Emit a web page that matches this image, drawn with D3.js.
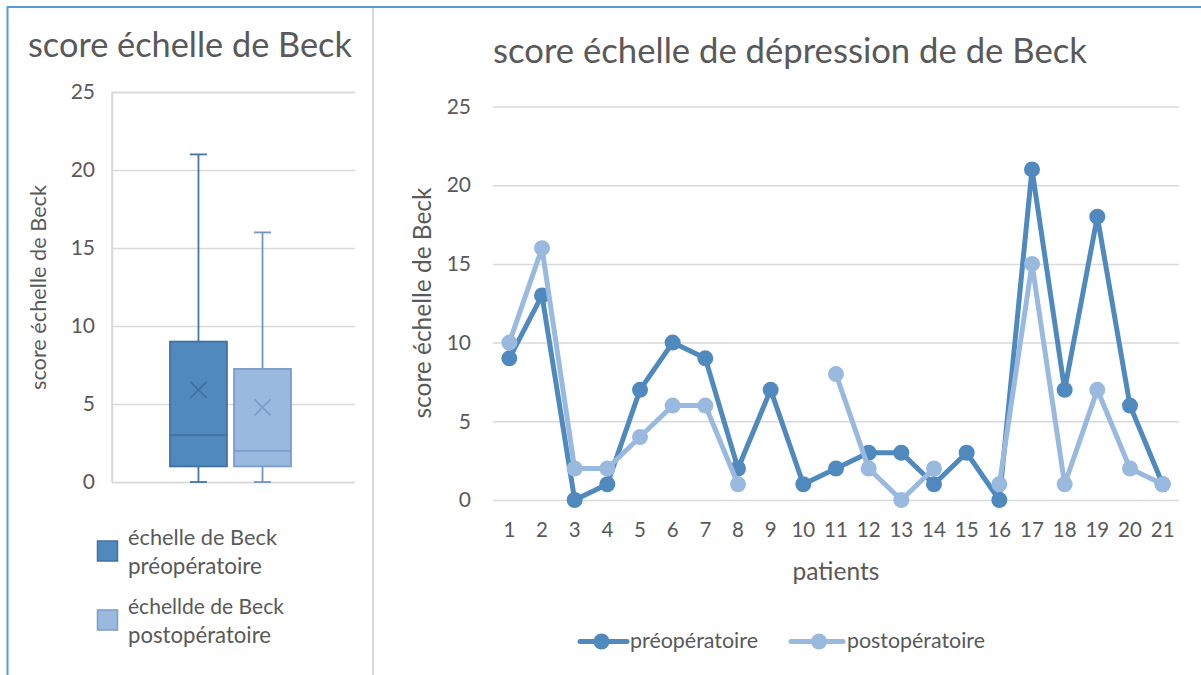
<!DOCTYPE html>
<html><head><meta charset="utf-8">
<script src="https://cdn.jsdelivr.net/npm/d3@7"></script>
<style>
html,body{margin:0;padding:0;background:#fff;}
svg{display:block;font-family:Lato,"Open Sans",sans-serif;}
</style></head>
<body>
<svg id="c" width="1201" height="675"></svg>
<script>
// ---------- data ----------
const patients = d3.range(1, 22).map(String);
const preValues  = [9,13,0,1,7,10,9,2,7,1,2,3,3,1,3,0,21,7,18,6,1];
const postValues = [10,16,2,2,4,6,6,1,null,null,8,2,0,2,null,1,15,1,7,2,1];
const seriesNames = ["préopératoire","postopératoire"];
const boxNames = [["échelle de Beck","préopératoire"],["échellde de Beck","postopératoire"]];
// box statistics: min, q1, median, q3, max, mean
const boxMin    = [0, 0];
const boxQ1     = [1, 1];
const boxMedian = [3, 2];
const boxQ3     = [9, 7.25];
const boxMax    = [21, 16];
const boxMean   = [5.9, 4.78];
const yTicks = [0,5,10,15,20,25];

const colPre = "#4F89BD", colPost = "#99B9DF";
const strokePre = "#41729F", strokePost = "#7C9DC8";
const txt = "#595959", grid = "#D9D9D9";

const svg = d3.select("#c");
function fit(sel, w){
  const node = sel.node(); const fs = parseFloat(sel.attr("font-size"));
  const cur = node.getComputedTextLength();
  sel.attr("font-size", (fs*w/cur).toFixed(2));
}

// frame
svg.append("line").attr("x1",7).attr("x2",1201).attr("y1",7).attr("y2",7).attr("stroke","#5B9BD5").attr("stroke-width",2);
svg.append("line").attr("x1",7.5).attr("x2",7.5).attr("y1",6).attr("y2",675).attr("stroke","#5B9BD5").attr("stroke-width",2);
svg.append("line").attr("x1",373).attr("x2",373).attr("y1",8).attr("y2",675).attr("stroke","#D9D9D9").attr("stroke-width",2);

// ---------- left box plot ----------
const L = {x0:112, x1:355, y0:482, y1:92};
const ly = d3.scaleLinear().domain([0,25]).range([L.y0, L.y1]);
const lx = d3.scaleBand().domain([0,1]).range([169,292]).paddingInner(0.08).paddingOuter(0);

svg.append("text").attr("x",28).attr("y",57).attr("font-size",30).attr("fill",txt)
  .text("score échelle de Beck").call(fit, 324);

const lAxis = svg.append("g").attr("transform",`translate(${L.x0},0)`)
  .call(d3.axisLeft(ly).tickValues(yTicks).tickSize(-(L.x1-L.x0)).tickPadding(17));
lAxis.select(".domain").attr("stroke",grid).attr("stroke-width",1.5);
lAxis.selectAll(".tick line").attr("stroke",grid).attr("stroke-width",1.5);
lAxis.selectAll(".tick text").attr("fill",txt).attr("font-size",21).attr("font-family","Lato");
svg.append("line").attr("x1",L.x0).attr("x2",L.x0).attr("y1",L.y1).attr("y2",L.y0).attr("stroke",grid).attr("stroke-width",1.5);

svg.append("text").attr("transform",`translate(46,${(185+390)/2}) rotate(-90)`).attr("text-anchor","middle")
  .attr("font-size",18).attr("fill",txt).text("score échelle de Beck").call(fit,205);

const fills=[colPre,colPost], strokes=[strokePre,strokePost], whisk=["#4676A6","#7395C2"];
[0,1].forEach(i=>{
  const x = lx(i), w = lx.bandwidth(), cx = x + w/2;
  const g = svg.append("g");
  g.append("line").attr("x1",cx).attr("x2",cx).attr("y1",ly(boxQ3[i])).attr("y2",ly(boxMax[i])).attr("stroke",whisk[i]).attr("stroke-width",1.8);
  g.append("line").attr("x1",cx).attr("x2",cx).attr("y1",ly(boxQ1[i])).attr("y2",ly(boxMin[i])).attr("stroke",whisk[i]).attr("stroke-width",1.8);
  g.append("line").attr("x1",cx-8.5).attr("x2",cx+8.5).attr("y1",ly(boxMax[i])).attr("y2",ly(boxMax[i])).attr("stroke",whisk[i]).attr("stroke-width",1.8);
  g.append("line").attr("x1",cx-8.5).attr("x2",cx+8.5).attr("y1",ly(boxMin[i])).attr("y2",ly(boxMin[i])).attr("stroke",whisk[i]).attr("stroke-width",1.8);
  g.append("rect").attr("x",x+1).attr("y",ly(boxQ3[i])).attr("width",w-2).attr("height",ly(boxQ1[i])-ly(boxQ3[i]))
    .attr("fill",fills[i]).attr("stroke",strokes[i]).attr("stroke-width",1.8);
  g.append("line").attr("x1",x+1).attr("x2",x+w-1).attr("y1",ly(boxMedian[i])).attr("y2",ly(boxMedian[i])).attr("stroke",strokes[i]).attr("stroke-width",1.8);
  const my = ly(boxMean[i]), s=8;
  g.append("path").attr("d",`M${cx-s},${my-s}L${cx+s},${my+s}M${cx-s},${my+s}L${cx+s},${my-s}`).attr("stroke",strokes[i]).attr("stroke-width",1.8).attr("fill","none");
});

// left legend
const leftLegW = [[149,134],[156,143]];
boxNames.forEach((lines,i)=>{
  const y0 = 541 + i*69;
  svg.append("rect").attr("x",97.5).attr("y",y0).attr("width",20).attr("height",20).attr("fill",fills[i]).attr("stroke",strokes[i]).attr("stroke-width",1.5);
  lines.forEach((t,j)=>{
    svg.append("text").attr("x",128).attr("y",y0 + 4 + j*29).attr("font-size",19).attr("fill",txt).text(t).call(fit, leftLegW[i][j]);
  });
});

// ---------- right line chart ----------
const R = {x0:493, x1:1179, y0:500, y1:106.5};
const rx = d3.scaleBand().domain(patients).range([R.x0,R.x1]);
const ry = d3.scaleLinear().domain([0,25]).range([R.y0,R.y1]);

svg.append("text").attr("x",493).attr("y",63).attr("font-size",30).attr("fill",txt)
  .text("score échelle de dépression de de Beck").call(fit, 594);

const rAxis = svg.append("g").attr("transform",`translate(${R.x0},0)`)
  .call(d3.axisLeft(ry).tickValues(yTicks).tickSize(-(R.x1-R.x0)).tickPadding(22));
rAxis.select(".domain").remove();
rAxis.selectAll(".tick line").attr("stroke",grid).attr("stroke-width",1.5);
rAxis.selectAll(".tick text").attr("fill",txt).attr("font-size",21).attr("font-family","Lato");

const xAxis = svg.append("g").attr("transform",`translate(0,${R.y0})`)
  .call(d3.axisBottom(rx).tickSize(0).tickPadding(22));
xAxis.select(".domain").remove();
xAxis.selectAll(".tick text").attr("fill",txt).attr("font-size",20.5).attr("font-family","Lato");

svg.append("text").attr("x",836).attr("y",580).attr("text-anchor","middle").attr("font-size",20).attr("fill",txt).text("patients").call(fit,87);
svg.append("text").attr("transform",`translate(431,303) rotate(-90)`).attr("text-anchor","middle")
  .attr("font-size",20).attr("fill",txt).text("score échelle de Beck").call(fit,231);

const cxr = d => rx(d) + rx.bandwidth()/2;
const line = d3.line().defined(d=>d.v!==null).x(d=>cxr(d.p)).y(d=>ry(d.v));
const series = [
  {name:seriesNames[0], vals:preValues, color:colPre},
  {name:seriesNames[1], vals:postValues, color:colPost}
];
series.forEach(s=>{
  const pts = patients.map((p,i)=>({p, v:s.vals[i]}));
  const g = svg.append("g");
  g.append("path").datum(pts).attr("d",line).attr("fill","none").attr("stroke",s.color)
    .attr("stroke-width",5).attr("stroke-linejoin","round").attr("stroke-linecap","round");
  g.selectAll("circle").data(pts.filter(d=>d.v!==null)).join("circle")
    .attr("cx",d=>cxr(d.p)).attr("cy",d=>ry(d.v)).attr("r",8).attr("fill",s.color);
});

// right legend
const legItems = [{x:580, tx:630, w:128}, {x:791, tx:847, w:138}];
series.forEach((s,i)=>{
  const lx0 = legItems[i].x, w = i===0?47:52;
  svg.append("line").attr("x1",lx0).attr("x2",lx0+w).attr("y1",641.5).attr("y2",641.5).attr("stroke",s.color).attr("stroke-width",5).attr("stroke-linecap","round");
  svg.append("circle").attr("cx",lx0+w/2+(i===0?-2:2)).attr("cy",641.5).attr("r",8).attr("fill",s.color);
  svg.append("text").attr("x",legItems[i].tx).attr("y",648).attr("font-size",19.5).attr("fill",txt).text(s.name).call(fit, legItems[i].w);
});
</script>
</body></html>
